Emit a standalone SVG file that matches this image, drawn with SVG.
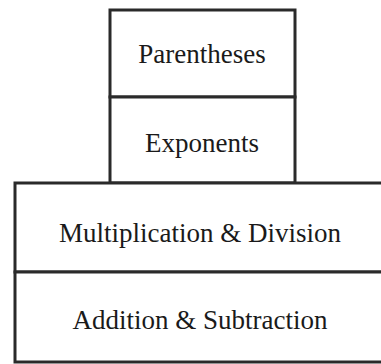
<svg xmlns="http://www.w3.org/2000/svg" width="381" height="364" viewBox="0 0 381 364">
<style>
.box{fill:#fff;stroke:#2a2a2a;stroke-width:3}
.lbl{font-family:"Liberation Serif","Times New Roman",serif;font-size:27px;fill:#1a1a1a;text-anchor:middle}
</style>
<rect width="381" height="364" fill="#fff"/>
<g id="parentheses">
<rect class="box" x="110" y="10" width="185" height="87"/>
<text class="lbl" x="202" y="63">Parentheses</text>
</g>
<g id="exponents">
<rect class="box" x="110" y="97" width="185" height="86"/>
<text class="lbl" x="202" y="152">Exponents</text>
</g>
<g id="multiplication-division">
<rect class="box" x="15" y="183" width="368" height="89"/>
<text class="lbl" x="200" y="242">Multiplication &amp; Division</text>
</g>
<g id="addition-subtraction">
<rect class="box" x="15" y="272" width="368" height="90"/>
<text class="lbl" x="200" y="329">Addition &amp; Subtraction</text>
</g>
<g id="connectors"></g>
</svg>
